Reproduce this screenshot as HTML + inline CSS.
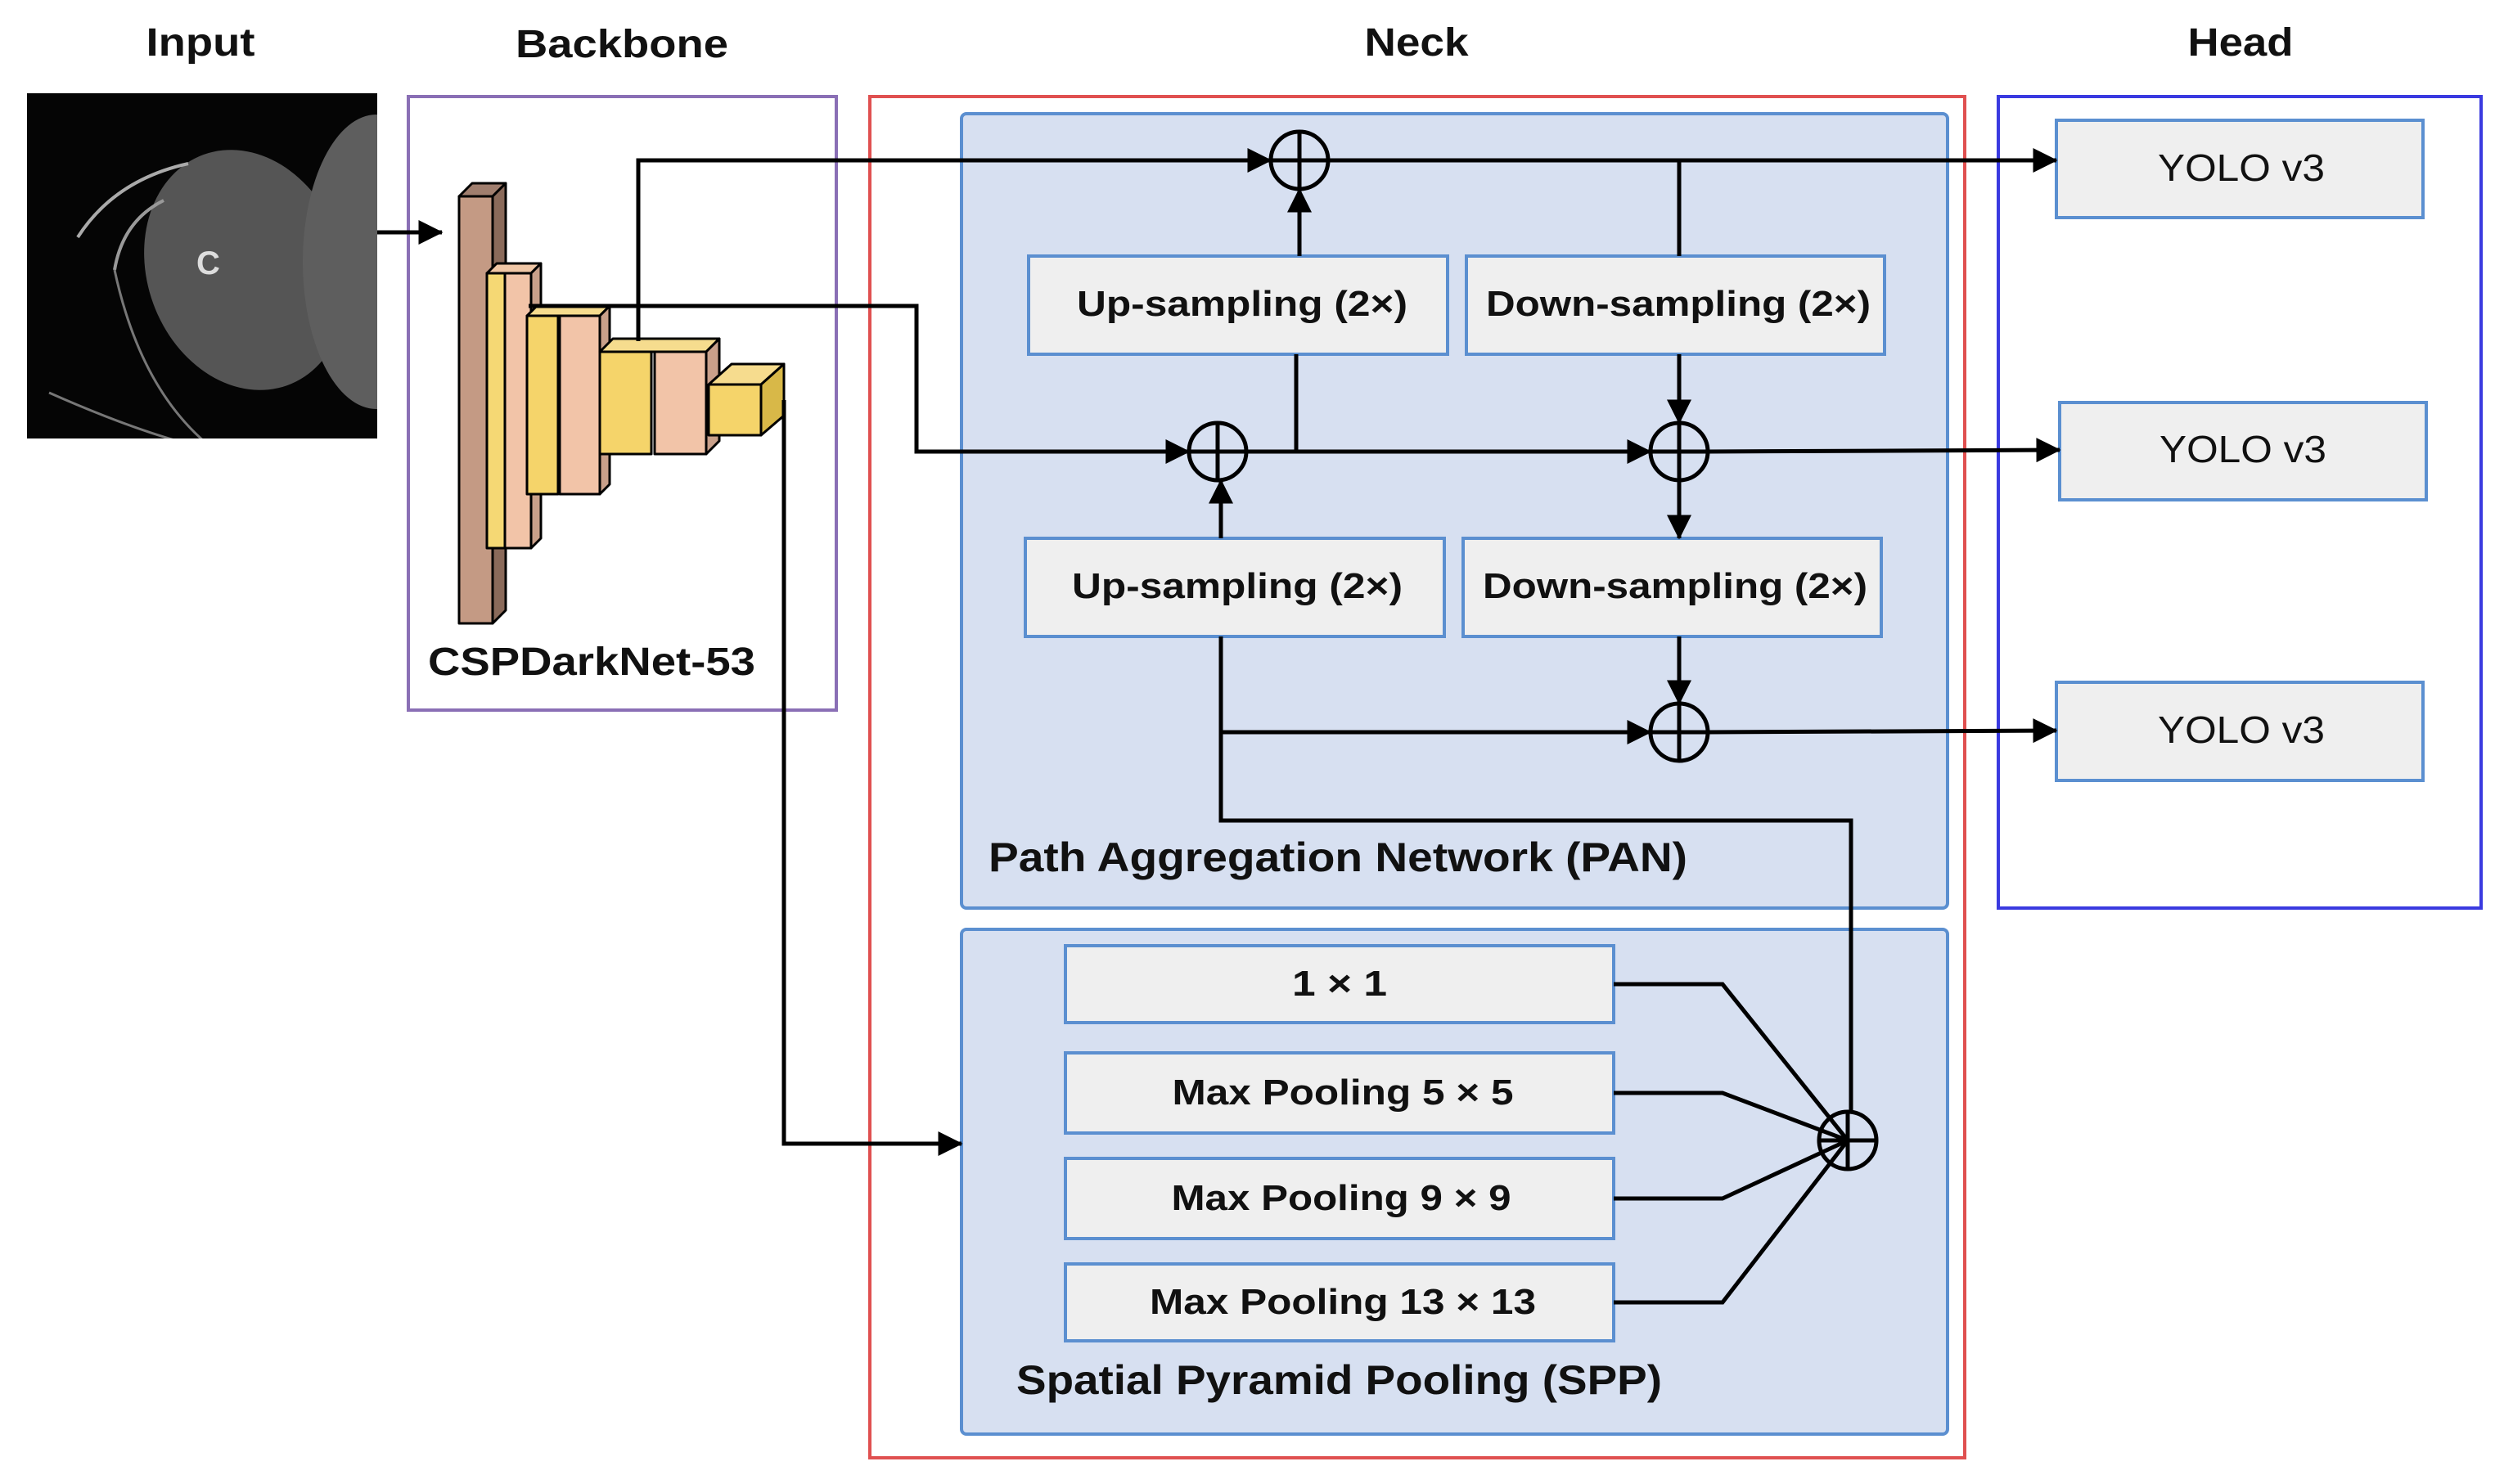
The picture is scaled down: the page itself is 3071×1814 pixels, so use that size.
<!DOCTYPE html>
<html><head><meta charset="utf-8"><style>html,body{margin:0;padding:0;background:#fff}svg{display:block}</style></head>
<body>
<svg width="3071" height="1814" viewBox="0 0 3071 1814" xmlns="http://www.w3.org/2000/svg" font-family="Liberation Sans, Arial, sans-serif">
<defs>
<marker id="A" viewBox="0 0 10 10" refX="9.5" refY="5" markerWidth="34" markerHeight="30" orient="auto" markerUnits="userSpaceOnUse"><path d="M0,0 L10,5 L0,10 z" fill="#000"/></marker>
<clipPath id="ic"><rect x="33" y="114" width="428" height="422"/></clipPath>
</defs>
<rect width="3071" height="1814" fill="#fff"/>
<!-- titles -->
<g font-weight="bold" font-size="48" text-anchor="middle" fill="#111" lengthAdjust="spacingAndGlyphs">
<text x="245" y="68" textLength="133" lengthAdjust="spacingAndGlyphs">Input</text>
<text x="760" y="70" textLength="260" lengthAdjust="spacingAndGlyphs">Backbone</text>
<text x="1731" y="68" textLength="127" lengthAdjust="spacingAndGlyphs">Neck</text>
<text x="2738" y="68" textLength="129" lengthAdjust="spacingAndGlyphs">Head</text>
</g>
<!-- input image -->
<rect x="33" y="114" width="428" height="422" fill="#050505"/>
<g clip-path="url(#ic)">
<ellipse cx="300" cy="330" rx="120" ry="150" fill="#555" transform="rotate(-20 300 330)"/>
<ellipse cx="460" cy="320" rx="90" ry="180" fill="#5e5e5e"/>
<path d="M95,290 Q140,220 230,200" stroke="#aaa" stroke-width="4" fill="none"/>
<path d="M140,330 Q150,270 200,245" stroke="#999" stroke-width="4" fill="none"/>
<path d="M140,330 Q170,470 250,540" stroke="#777" stroke-width="3" fill="none"/>
<path d="M60,480 Q150,520 220,540" stroke="#777" stroke-width="3" fill="none"/>
<text x="240" y="335" fill="#ddd" font-size="40" font-weight="bold">C</text>
</g>
<!-- boxes -->
<rect x="499" y="118" width="523" height="750" fill="none" stroke="#8a6fb5" stroke-width="4"/>
<rect x="1063" y="118" width="1338" height="1664" fill="none" stroke="#e05050" stroke-width="4"/>
<rect x="2442" y="118" width="590" height="992" fill="none" stroke="#3a3ae0" stroke-width="4"/>
<rect x="1175" y="139" width="1205" height="971" fill="#d7e0f1" stroke="#5b8fd0" stroke-width="4" rx="6"/>
<rect x="1175" y="1136" width="1205" height="617" fill="#d7e0f1" stroke="#5b8fd0" stroke-width="4" rx="6"/>
<!-- backbone blocks -->
<g stroke="#000" stroke-width="3" stroke-linejoin="round">
<polygon points="561,240 602,240 618,224 577,224" fill="#a07e6e"/>
<polygon points="602,240 618,224 618,746 602,762" fill="#8a6a5a"/>
<rect x="561" y="240" width="41" height="522" fill="#c49a84"/>
<polygon points="595,334 649,334 661,322 607,322" fill="#f0c7a6"/>
<polygon points="649,334 661,322 661,658 649,670" fill="#c9a08a"/>
<rect x="595" y="334" width="22" height="336" fill="#f5d874"/>
<rect x="617" y="334" width="32" height="336" fill="#f2c4a8"/>
<polygon points="644,386 733,386 745,374 656,374" fill="#f6dc8e"/>
<polygon points="733,386 745,374 745,592 733,604" fill="#c9a08a"/>
<rect x="644" y="386" width="38" height="218" fill="#f5d46a"/>
<rect x="684" y="386" width="49" height="218" fill="#f2c4a8"/>
<polygon points="733,430 863,430 879,414 749,414" fill="#f6dc8e"/>
<polygon points="863,430 879,414 879,539 863,555" fill="#c9a08a"/>
<rect x="733" y="430" width="63" height="125" fill="#f5d46a"/>
<rect x="800" y="430" width="63" height="125" fill="#f2c4a8"/>
<polygon points="866,470 930,470 958,445 894,445" fill="#f6dc8e"/>
<polygon points="930,470 958,445 958,508 930,532" fill="#d8b848"/>
<rect x="866" y="470" width="64" height="62" fill="#f5d46a"/>
</g>
<text x="523" y="825" font-size="48" font-weight="bold" fill="#111" textLength="400" lengthAdjust="spacingAndGlyphs">CSPDarkNet-53</text>
<!-- neck boxes -->
<g fill="#efefef" stroke="#5b8fd0" stroke-width="4">
<rect x="1257" y="313" width="512" height="120"/>
<rect x="1792" y="313" width="511" height="120"/>
<rect x="1253" y="658" width="512" height="120"/>
<rect x="1788" y="658" width="511" height="120"/>
<rect x="2513" y="147" width="448" height="119"/>
<rect x="2517" y="492" width="448" height="119"/>
<rect x="2513" y="834" width="448" height="120"/>
<rect x="1302" y="1156" width="670" height="94"/>
<rect x="1302" y="1287" width="670" height="98"/>
<rect x="1302" y="1416" width="670" height="98"/>
<rect x="1302" y="1545" width="670" height="94"/>
</g>
<g font-size="44" text-anchor="middle" fill="#111" font-weight="bold">
<text x="1518" y="386" textLength="404" lengthAdjust="spacingAndGlyphs">Up-sampling (2×)</text>
<text x="2051" y="386" textLength="470" lengthAdjust="spacingAndGlyphs">Down-sampling (2×)</text>
<text x="1512" y="731" textLength="404" lengthAdjust="spacingAndGlyphs">Up-sampling (2×)</text>
<text x="2047" y="731" textLength="470" lengthAdjust="spacingAndGlyphs">Down-sampling (2×)</text>
<text x="1637" y="1217" textLength="116" lengthAdjust="spacingAndGlyphs">1 × 1</text>
<text x="1641" y="1350" textLength="417" lengthAdjust="spacingAndGlyphs">Max Pooling 5 × 5</text>
<text x="1639" y="1479" textLength="415" lengthAdjust="spacingAndGlyphs">Max Pooling 9 × 9</text>
<text x="1641" y="1606" textLength="472" lengthAdjust="spacingAndGlyphs">Max Pooling 13 × 13</text>
</g>
<g font-size="46" text-anchor="middle" fill="#111">
<text x="2739" y="221" textLength="204" lengthAdjust="spacingAndGlyphs">YOLO v3</text>
<text x="2741" y="565" textLength="204" lengthAdjust="spacingAndGlyphs">YOLO v3</text>
<text x="2739" y="908" textLength="204" lengthAdjust="spacingAndGlyphs">YOLO v3</text>
</g>
<g font-size="50" font-weight="bold" fill="#111">
<text x="1208" y="1065" textLength="854" lengthAdjust="spacingAndGlyphs">Path Aggregation Network (PAN)</text>
<text x="1242" y="1704" textLength="789" lengthAdjust="spacingAndGlyphs">Spatial Pyramid Pooling (SPP)</text>
</g>
<!-- connectors -->
<g stroke="#000" stroke-width="5" fill="none">
<line x1="461" y1="284" x2="540" y2="284" marker-end="url(#A)"/>
<polyline points="780,417 780,196 1553,196" marker-end="url(#A)"/>
<line x1="1623" y1="196" x2="2513" y2="196" marker-end="url(#A)"/>
<polyline points="2052,196 2052,313"/>
<line x1="2052" y1="433" x2="2052" y2="517" marker-end="url(#A)"/>
<polyline points="646,374 1120,374 1120,552 1453,552" marker-end="url(#A)"/>
<line x1="1523" y1="552" x2="2017" y2="552" marker-end="url(#A)"/>
<line x1="1584" y1="552" x2="1584" y2="433"/>
<line x1="1588" y1="313" x2="1588" y2="231" marker-end="url(#A)"/>
<line x1="2087" y1="552" x2="2517" y2="550" marker-end="url(#A)"/>
<line x1="2052" y1="587" x2="2052" y2="658" marker-end="url(#A)"/>
<line x1="2052" y1="778" x2="2052" y2="860" marker-end="url(#A)"/>
<line x1="1492" y1="658" x2="1492" y2="587" marker-end="url(#A)"/>
<polyline points="1492,778 1492,1003 2262,1003 2262,1359"/>
<line x1="1492" y1="895" x2="2017" y2="895" marker-end="url(#A)"/>
<line x1="2087" y1="895" x2="2513" y2="893" marker-end="url(#A)"/>
<polyline points="958,489 958,1398 1175,1398" marker-end="url(#A)"/>
<polyline points="1972,1203 2105,1203 2258,1394"/>
<polyline points="1972,1336 2105,1336 2258,1394"/>
<polyline points="1972,1465 2105,1465 2258,1394"/>
<polyline points="1972,1592 2105,1592 2258,1394"/>
</g>
<!-- plus circles -->
<g stroke="#000" stroke-width="5" fill="none">
<circle cx="1588" cy="196" r="35"/><line x1="1553" y1="196" x2="1623" y2="196"/><line x1="1588" y1="161" x2="1588" y2="231"/>
<circle cx="1488" cy="552" r="35"/><line x1="1453" y1="552" x2="1523" y2="552"/><line x1="1488" y1="517" x2="1488" y2="587"/>
<circle cx="2052" cy="552" r="35"/><line x1="2017" y1="552" x2="2087" y2="552"/><line x1="2052" y1="517" x2="2052" y2="587"/>
<circle cx="2052" cy="895" r="35"/><line x1="2017" y1="895" x2="2087" y2="895"/><line x1="2052" y1="860" x2="2052" y2="930"/>
<circle cx="2258" cy="1394" r="35"/><line x1="2223" y1="1394" x2="2293" y2="1394"/><line x1="2258" y1="1359" x2="2258" y2="1429"/>
</g>
</svg>
</body></html>
